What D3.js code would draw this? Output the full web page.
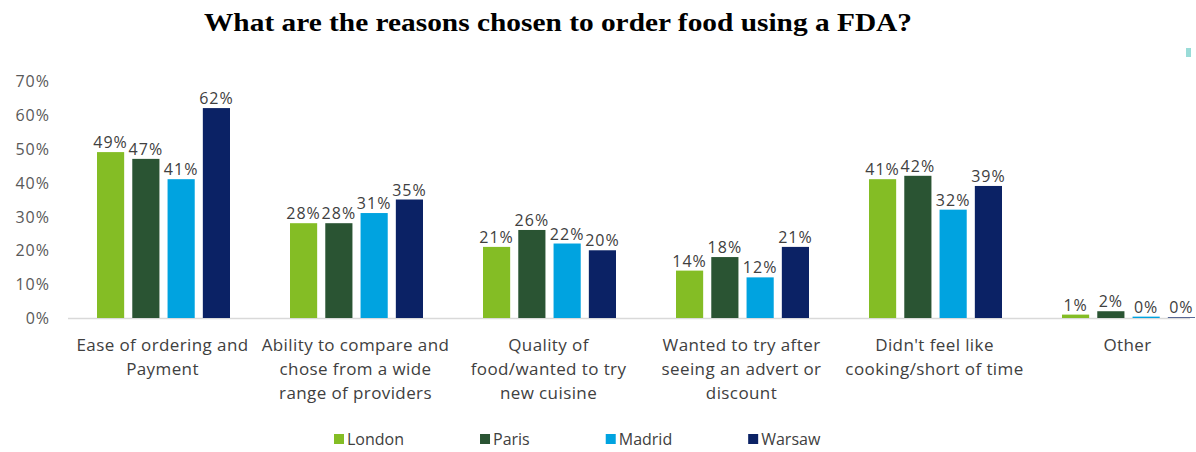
<!DOCTYPE html>
<html>
<head>
<meta charset="utf-8">
<script src="https://cdn.jsdelivr.net/npm/d3@7"></script>
<style>
  html, body { margin: 0; padding: 0; background: #fff; }
  svg { display: block; }
  text { font-family: "Open Sans", "Noto Sans", sans-serif; }
</style>
</head>
<body>
<svg id="chart" width="1196" height="452"></svg>
<script>
// Reasons for ordering through a food delivery app, by city (% of respondents)
const categories = [
  "Ease of ordering and\nPayment",
  "Ability to compare and\nchose from a wide\nrange of providers",
  "Quality of\nfood/wanted to try\nnew cuisine",
  "Wanted to try after\nseeing an advert or\ndiscount",
  "Didn't feel like\ncooking/short of time",
  "Other"
];
const cities = ["London", "Paris", "Madrid", "Warsaw"];
const london = [49, 28, 21, 14, 41, 1];
const paris  = [47, 28, 26, 18, 42, 2];
const madrid = [41, 31, 22, 12, 32, 0.4];
const warsaw = [62, 35, 20, 21, 39, 0.2];
const yTicks = [0, 10, 20, 30, 40, 50, 60, 70];
const colors = ["#84bd25", "#2a5433", "#00a3e0", "#0b2265"];
const title = "What are the reasons chosen to order food using a FDA?";

const seriesValues = [london, paris, madrid, warsaw];

const svg = d3.select("#chart");

const x0 = d3.scaleBand().domain(categories).range([66, 1224]).padding(0);
const x1 = d3.scaleBand().domain(cities).range([31, 164]).paddingInner(0.23).paddingOuter(0);
const y = d3.scaleLinear().domain([0, 70]).range([318, 81]);
const color = d3.scaleOrdinal().domain(cities).range(colors);
const fmt = v => d3.format(".0f")(v) + "%";

// Title
svg.append("text")
  .attr("x", 558).attr("y", 31)
  .attr("text-anchor", "middle")
  .attr("textLength", 708)
  .attr("lengthAdjust", "spacingAndGlyphs")
  .style("font-family", "'Liberation Serif', 'Times New Roman', serif")
  .style("font-weight", "bold")
  .style("font-size", "26px")
  .attr("fill", "#000")
  .text(title);

// Y axis (labels only)
const yAxis = d3.axisLeft(y).tickValues(yTicks).tickFormat(d => d + "%").tickSize(0).tickPadding(0);
const yg = svg.append("g").attr("transform", "translate(50,0)").call(yAxis);
yg.select(".domain").remove();
yg.selectAll("text")
  .style("font-family", "'Open Sans', sans-serif")
  .style("font-size", "16px")
  .style("letter-spacing", "1px")
  .attr("fill", "#595959")
  .attr("dy", "0.35em");

// Baseline
svg.append("line")
  .attr("x1", 68).attr("x2", 1190)
  .attr("y1", y(0) + 0.5).attr("y2", y(0) + 0.5)
  .attr("stroke", "#d9d9d9").attr("stroke-width", 1.5);

// Bars
const rows = categories.map((c, i) => ({
  cat: c,
  vals: cities.map((city, j) => ({ city, v: seriesValues[j][i] }))
}));

const groups = svg.append("g").selectAll("g")
  .data(rows).join("g")
  .attr("transform", d => `translate(${x0(d.cat)},0)`);

groups.selectAll("rect")
  .data(d => d.vals).join("rect")
  .attr("x", d => x1(d.city))
  .attr("y", d => y(d.v))
  .attr("width", x1.bandwidth())
  .attr("height", d => y(0) - y(d.v))
  .attr("fill", d => color(d.city));

// Value labels
groups.selectAll("text.val")
  .data(d => d.vals).join("text")
  .attr("class", "val")
  .attr("x", d => x1(d.city) + x1.bandwidth() / 2)
  .attr("y", d => y(d.v) - 4)
  .attr("text-anchor", "middle")
  .style("font-size", "16px")
  .style("letter-spacing", "1px")
  .attr("fill", "#404040")
  .text(d => fmt(d.v));

// Category labels
const xAxis = d3.axisBottom(x0).tickSize(0).tickPadding(0);
const xg = svg.append("g").attr("transform", `translate(0,${y(0)})`).call(xAxis);
xg.select(".domain").remove();
xg.selectAll(".tick text").each(function(d) {
  const t = d3.select(this);
  t.text(null).attr("y", 0).attr("dy", null)
    .style("font-family", "'Open Sans', sans-serif")
    .style("font-size", "17px")
    .style("letter-spacing", "0.4px")
    .attr("fill", "#404040");
  d.split("\n").forEach((line, i) => {
    t.append("tspan").attr("x", 0).attr("y", 33 + i * 24).text(line);
  });
});

// Legend
const legend = svg.append("g").attr("transform", "translate(334,439)");
let lx = 0;
cities.forEach(city => {
  const g = legend.append("g").attr("transform", `translate(${lx},0)`);
  g.append("rect").attr("x", 0).attr("y", -5).attr("width", 10).attr("height", 10)
    .attr("fill", color(city));
  const t = g.append("text").attr("x", 13).attr("y", 0).attr("dy", "0.35em")
    .style("font-size", "16px").attr("fill", "#404040").text(city);
  lx += 13 + t.node().getComputedTextLength() + 76;
});

// Small accent mark at the top-right corner
svg.append("rect").attr("x", 1186).attr("y", 48).attr("width", 5).attr("height", 9)
  .attr("fill", "#9adcd8");
</script>
</body>
</html>
